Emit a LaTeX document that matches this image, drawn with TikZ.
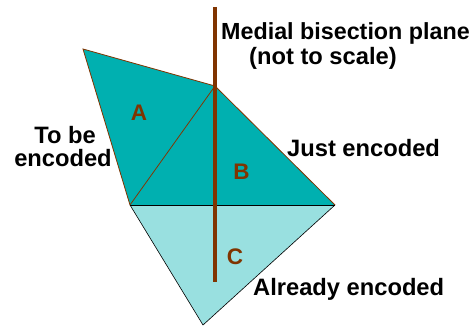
\documentclass[tikz,border=0pt]{standalone}
\usepackage{fontspec}
\setmainfont{Liberation Sans}
\definecolor{tealdark}{RGB}{0,176,176}
\definecolor{teallight}{RGB}{153,224,224}
\definecolor{brownline}{RGB}{128,52,0}
\tikzset{
  lbl/.style={font=\fontsize{23.7}{25}\selectfont\bfseries, inner sep=0pt, text=black},
  tri/.style={font=\fontsize{22.5}{24}\selectfont\bfseries, inner sep=0pt, text=brownline},
  edgebrown/.style={draw=brownline, line width=0.8pt},
  edgeblack/.style={draw=black, line width=0.6pt},
  plane/.style={draw=brownline, line width=4pt}
}
\begin{document}
\begin{tikzpicture}[x=1pt,y=-1pt]
\useasboundingbox (0,0) rectangle (476,329);
\coordinate (p1) at (83,49);
\coordinate (p2) at (215,86);
\coordinate (p3) at (130,205);
\coordinate (p4) at (335,205);
\coordinate (p5) at (203,325);
\coordinate (ltop) at (214.7,7);
\coordinate (lbot) at (214.7,282);
% C
\fill[teallight] (p3) -- (p4) -- (p5) -- cycle;
\draw[edgeblack] (p3) -- (p5) -- (p4);
% A and B
\fill[tealdark] (p1) -- (p2) -- (p3) -- cycle;
\fill[tealdark] (p2) -- (p4) -- (p3) -- cycle;
\draw[edgebrown] (p3) -- (p1) -- (p2) -- (p4);
\draw[edgebrown] (p2) -- (p3);
\draw[edgeblack] (p3) -- (p4);
% plane
\draw[plane] (ltop) -- (lbot);
% labels
\node[tri] (la) at (139,113) {A};
\node[tri] (lb) at (241.5,171.5) {B};
\node[tri] (lc) at (235,257) {C};
\node[lbl, anchor=base west, font=\fontsize{23.3}{25}\selectfont\bfseries] (med) at (221,40) {Medial bisection plane};
\node[lbl, anchor=base west] (nts) at (249,64) {(not to scale)};
\node[lbl, anchor=base] (tobe) at (65,143) {To be};
\node[lbl, anchor=base] (enc) at (63,166.5) {encoded};
\node[lbl, anchor=base west] (just) at (287,156) {Just encoded};
\node[lbl, anchor=base west] (alr) at (253,295) {Already encoded};
\end{tikzpicture}
\end{document}
